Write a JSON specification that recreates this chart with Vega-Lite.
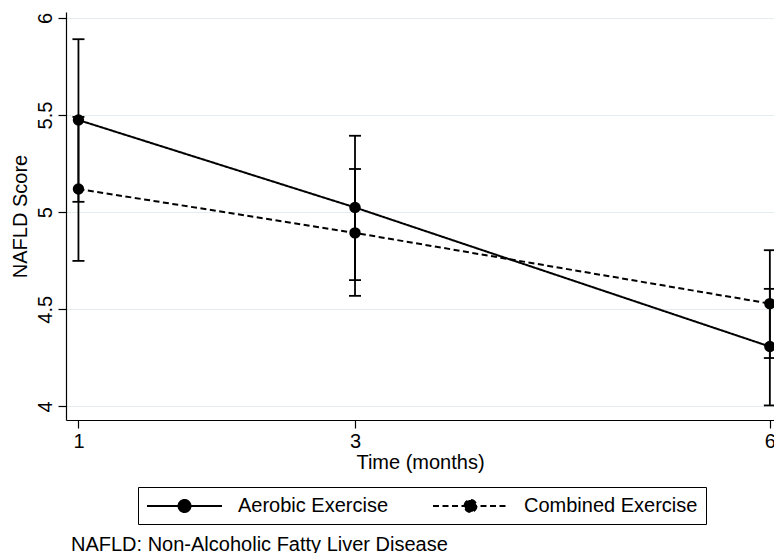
{
  "$schema": "https://vega.github.io/schema/vega-lite/v6.json",
  "width": 708,
  "height": 408,
  "autosize": "none",
  "padding": {"left": 66, "top": 12, "right": 0, "bottom": 133},
  "background": "white",
  "config": {
    "view": {"stroke": null},
    "font": "Liberation Sans",
    "axis": {
      "labelFont": "Liberation Sans",
      "titleFont": "Liberation Sans",
      "labelColor": "black",
      "titleColor": "black",
      "labelFontSize": 20,
      "titleFontSize": 20,
      "titleFontWeight": "normal",
      "tickColor": "black",
      "domainColor": "black",
      "tickSize": 8,
      "tickWidth": 1.2,
      "domainWidth": 1.2
    }
  },
  "title": {
    "text": "NAFLD: Non-Alcoholic Fatty Liver Disease",
    "orient": "bottom",
    "anchor": "start",
    "frame": "group",
    "dx": 5,
    "offset": 10,
    "font": "Liberation Sans",
    "fontSize": 20,
    "fontWeight": "normal",
    "color": "black"
  },
  "data": {
    "values": [
      {"time": 1, "group": "Aerobic Exercise", "mean": 5.474, "lo": 5.053, "hi": 5.89},
      {"time": 1, "group": "Combined Exercise", "mean": 5.119, "lo": 4.749, "hi": 5.49},
      {"time": 3, "group": "Aerobic Exercise", "mean": 5.024, "lo": 4.65, "hi": 5.393},
      {"time": 3, "group": "Combined Exercise", "mean": 4.893, "lo": 4.569, "hi": 5.222},
      {"time": 6, "group": "Aerobic Exercise", "mean": 4.308, "lo": 4.005, "hi": 4.605},
      {"time": 6, "group": "Combined Exercise", "mean": 4.529, "lo": 4.249, "hi": 4.804}
    ]
  },
  "encoding": {
    "x": {
      "field": "time",
      "type": "quantitative",
      "title": "Time (months)",
      "scale": {"domain": [0.91, 6.03], "nice": false, "zero": false},
      "axis": {"values": [1, 3, 6], "grid": false, "labelPadding": 3, "titlePadding": 1, "format": "~g"}
    }
  },
  "layer": [
    {
      "mark": {"type": "rule", "color": "black", "strokeWidth": 1.8},
      "encoding": {
        "y": {
          "field": "lo",
          "type": "quantitative",
          "title": "NAFLD Score",
          "scale": {"domain": [3.93, 6.03], "nice": false, "zero": false},
          "axis": {
            "values": [4, 4.5, 5, 5.5, 6],
            "format": "~g",
            "labelAngle": -90,
            "labelPadding": 3,
            "titlePadding": 5,
            "grid": true,
            "gridColor": "#e3edef",
            "gridWidth": 1.2
          }
        },
        "y2": {"field": "hi"}
      }
    },
    {
      "mark": {"type": "tick", "orient": "horizontal", "color": "black", "size": 12, "thickness": 1.8, "opacity": 1},
      "encoding": {"y": {"field": "lo", "type": "quantitative", "title": "NAFLD Score"}}
    },
    {
      "mark": {"type": "tick", "orient": "horizontal", "color": "black", "size": 12, "thickness": 1.8, "opacity": 1},
      "encoding": {"y": {"field": "hi", "type": "quantitative", "title": "NAFLD Score"}}
    },
    {
      "mark": {"type": "line", "color": "black", "strokeWidth": 2},
      "encoding": {
        "y": {"field": "mean", "type": "quantitative", "title": "NAFLD Score"},
        "strokeDash": {
          "field": "group",
          "type": "nominal",
          "scale": {"domain": ["Aerobic Exercise", "Combined Exercise"], "range": [[1, 0], [6, 3.5]]},
          "legend": {
            "orient": "none",
            "legendX": 72,
            "legendY": 475,
            "direction": "horizontal",
            "columns": 2,
            "title": null,
            "strokeColor": "black",
            "padding": 8,
            "labelFont": "Liberation Sans",
            "labelFontSize": 20,
            "labelColor": "black",
            "labelLimit": 400,
            "symbolType": "M-1,0H6.5M3.35,0A0.6,0.6 0 1,1 2.15,0A0.6,0.6 0 1,1 3.35,0Z",
            "symbolSize": 400,
            "symbolStrokeWidth": 2,
            "symbolStrokeColor": "black",
            "symbolFillColor": "black",
            "labelOffset": 70,
            "columnPadding": 40
          }
        }
      }
    },
    {
      "mark": {"type": "point", "filled": true, "color": "black", "size": 130, "opacity": 1},
      "encoding": {"y": {"field": "mean", "type": "quantitative", "title": "NAFLD Score"}}
    }
  ]
}
